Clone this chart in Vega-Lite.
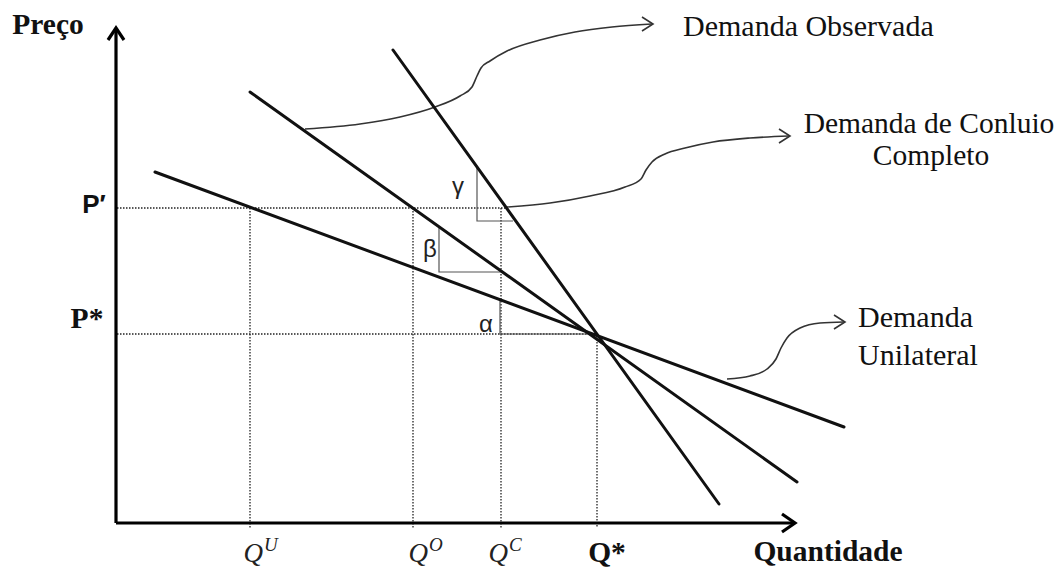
{
  "$schema": "https://vega.github.io/schema/vega-lite/v6.json",
  "width": 1062,
  "height": 569,
  "autosize": {"type": "fit", "contains": "padding"},
  "padding": 0,
  "background": "white",
  "config": {"view": {"stroke": null}},
  "datasets": {
    "segs": [
      {"kind": "axis", "id": "yaxis", "o": 0, "x": 116, "y": 523},
      {"kind": "axis", "id": "yaxis", "o": 1, "x": 116, "y": 30},
      {"kind": "axis", "id": "xaxis", "o": 0, "x": 116, "y": 523},
      {"kind": "axis", "id": "xaxis", "o": 1, "x": 794, "y": 523},
      {"kind": "axis", "id": "yarr", "o": 0, "x": 108, "y": 40},
      {"kind": "axis", "id": "yarr", "o": 1, "x": 116, "y": 28},
      {"kind": "axis", "id": "yarr", "o": 2, "x": 124, "y": 40},
      {"kind": "axis", "id": "xarr", "o": 0, "x": 782, "y": 514},
      {"kind": "axis", "id": "xarr", "o": 1, "x": 795, "y": 523},
      {"kind": "axis", "id": "xarr", "o": 2, "x": 782, "y": 532},

      {"kind": "demand", "id": "conluio", "o": 0, "x": 393, "y": 50},
      {"kind": "demand", "id": "conluio", "o": 1, "x": 719, "y": 504},
      {"kind": "demand", "id": "observada", "o": 0, "x": 250, "y": 92},
      {"kind": "demand", "id": "observada", "o": 1, "x": 797, "y": 482},
      {"kind": "demand", "id": "unilateral", "o": 0, "x": 155, "y": 172},
      {"kind": "demand", "id": "unilateral", "o": 1, "x": 844, "y": 427},

      {"kind": "dotted", "id": "pprime", "o": 0, "x": 117, "y": 208},
      {"kind": "dotted", "id": "pprime", "o": 1, "x": 505, "y": 208},
      {"kind": "dotted", "id": "pstar", "o": 0, "x": 117, "y": 334},
      {"kind": "dotted", "id": "pstar", "o": 1, "x": 598, "y": 334},
      {"kind": "dotted", "id": "qu", "o": 0, "x": 250, "y": 208},
      {"kind": "dotted", "id": "qu", "o": 1, "x": 250, "y": 528},
      {"kind": "dotted", "id": "qo", "o": 0, "x": 413, "y": 208},
      {"kind": "dotted", "id": "qo", "o": 1, "x": 413, "y": 528},
      {"kind": "dotted", "id": "qc", "o": 0, "x": 501, "y": 208},
      {"kind": "dotted", "id": "qc", "o": 1, "x": 501, "y": 528},
      {"kind": "dotted", "id": "qs", "o": 0, "x": 597, "y": 336},
      {"kind": "dotted", "id": "qs", "o": 1, "x": 597, "y": 528},

      {"kind": "thin", "id": "gamma", "o": 0, "x": 477, "y": 168},
      {"kind": "thin", "id": "gamma", "o": 1, "x": 477, "y": 221},
      {"kind": "thin", "id": "gamma", "o": 2, "x": 513, "y": 221},
      {"kind": "thin", "id": "beta", "o": 0, "x": 439, "y": 227},
      {"kind": "thin", "id": "beta", "o": 1, "x": 439, "y": 272},
      {"kind": "thin", "id": "beta", "o": 2, "x": 500, "y": 272},
      {"kind": "thin", "id": "alpha", "o": 0, "x": 500, "y": 300},
      {"kind": "thin", "id": "alpha", "o": 1, "x": 500, "y": 334},
      {"kind": "thin", "id": "alpha", "o": 2, "x": 590, "y": 334},

      {"kind": "curve", "id": "cobs", "o": 0, "x": 305, "y": 129},
      {"kind": "curve", "id": "cobs", "o": 1, "x": 360, "y": 124},
      {"kind": "curve", "id": "cobs", "o": 2, "x": 400, "y": 117},
      {"kind": "curve", "id": "cobs", "o": 3, "x": 435, "y": 107},
      {"kind": "curve", "id": "cobs", "o": 4, "x": 460, "y": 96},
      {"kind": "curve", "id": "cobs", "o": 5, "x": 472, "y": 87},
      {"kind": "curve", "id": "cobs", "o": 6, "x": 477, "y": 76},
      {"kind": "curve", "id": "cobs", "o": 7, "x": 481, "y": 68},
      {"kind": "curve", "id": "cobs", "o": 8, "x": 490, "y": 61},
      {"kind": "curve", "id": "cobs", "o": 9, "x": 507, "y": 51},
      {"kind": "curve", "id": "cobs", "o": 10, "x": 540, "y": 40},
      {"kind": "curve", "id": "cobs", "o": 11, "x": 575, "y": 32},
      {"kind": "curve", "id": "cobs", "o": 12, "x": 612, "y": 27},
      {"kind": "curve", "id": "cobs", "o": 13, "x": 652, "y": 24},

      {"kind": "curve", "id": "ccon", "o": 0, "x": 507, "y": 207},
      {"kind": "curve", "id": "ccon", "o": 1, "x": 550, "y": 203},
      {"kind": "curve", "id": "ccon", "o": 2, "x": 590, "y": 196},
      {"kind": "curve", "id": "ccon", "o": 3, "x": 625, "y": 187},
      {"kind": "curve", "id": "ccon", "o": 4, "x": 641, "y": 179},
      {"kind": "curve", "id": "ccon", "o": 5, "x": 646, "y": 170},
      {"kind": "curve", "id": "ccon", "o": 6, "x": 652, "y": 162},
      {"kind": "curve", "id": "ccon", "o": 7, "x": 665, "y": 154},
      {"kind": "curve", "id": "ccon", "o": 8, "x": 685, "y": 148},
      {"kind": "curve", "id": "ccon", "o": 9, "x": 713, "y": 142},
      {"kind": "curve", "id": "ccon", "o": 10, "x": 750, "y": 138},
      {"kind": "curve", "id": "ccon", "o": 11, "x": 789, "y": 136},

      {"kind": "curve", "id": "cuni", "o": 0, "x": 727, "y": 379},
      {"kind": "curve", "id": "cuni", "o": 1, "x": 750, "y": 376},
      {"kind": "curve", "id": "cuni", "o": 2, "x": 767, "y": 369},
      {"kind": "curve", "id": "cuni", "o": 3, "x": 776, "y": 359},
      {"kind": "curve", "id": "cuni", "o": 4, "x": 781, "y": 348},
      {"kind": "curve", "id": "cuni", "o": 5, "x": 787, "y": 338},
      {"kind": "curve", "id": "cuni", "o": 6, "x": 800, "y": 328},
      {"kind": "curve", "id": "cuni", "o": 7, "x": 820, "y": 323},
      {"kind": "curve", "id": "cuni", "o": 8, "x": 844, "y": 322},

      {"kind": "carrow", "id": "aobs", "o": 0, "x": 642, "y": 17},
      {"kind": "carrow", "id": "aobs", "o": 1, "x": 653, "y": 24},
      {"kind": "carrow", "id": "aobs", "o": 2, "x": 642, "y": 31},
      {"kind": "carrow", "id": "acon", "o": 0, "x": 779, "y": 129},
      {"kind": "carrow", "id": "acon", "o": 1, "x": 790, "y": 136},
      {"kind": "carrow", "id": "acon", "o": 2, "x": 779, "y": 143},
      {"kind": "carrow", "id": "auni", "o": 0, "x": 834, "y": 315},
      {"kind": "carrow", "id": "auni", "o": 1, "x": 845, "y": 322},
      {"kind": "carrow", "id": "auni", "o": 2, "x": 834, "y": 329}
    ],
    "labels": [
      {"kind": "sb", "x": 48, "y": 34, "text": "Preço"},
      {"kind": "sb", "x": 87, "y": 328, "text": "P*"},
      {"kind": "sb", "x": 607, "y": 562, "text": "Q*"},
      {"kind": "sb", "x": 828, "y": 561, "text": "Quantidade"},
      {"kind": "srl", "x": 683, "y": 36, "text": "Demanda Observada"},
      {"kind": "srl", "x": 858, "y": 327, "text": "Demanda"},
      {"kind": "srl", "x": 858, "y": 365, "text": "Unilateral"},
      {"kind": "sr", "x": 929, "y": 133, "text": "Demanda de Conluio"},
      {"kind": "sr", "x": 931, "y": 165, "text": "Completo"},
      {"kind": "greek", "x": 458, "y": 194, "text": "γ"},
      {"kind": "greek", "x": 430, "y": 257, "text": "β"},
      {"kind": "greek", "x": 486, "y": 332, "text": "α"},
      {"kind": "pp", "x": 94, "y": 213, "text": "P′"},
      {"kind": "qi", "x": 263, "y": 562, "text": "Q"},
      {"kind": "qi", "x": 428, "y": 562, "text": "Q"},
      {"kind": "qi", "x": 508, "y": 562, "text": "Q"},
      {"kind": "sup", "x": 264, "y": 551, "text": "U"},
      {"kind": "sup", "x": 429, "y": 551, "text": "O"},
      {"kind": "sup", "x": 509, "y": 551, "text": "C"}
    ]
  },
  "encoding": {
    "x": {"field": "x", "type": "quantitative", "scale": {"domain": [0, 1062], "nice": false, "zero": false}, "axis": null},
    "y": {"field": "y", "type": "quantitative", "scale": {"domain": [0, 569], "nice": false, "zero": false, "reverse": true}, "axis": null}
  },
  "layer": [
    {
      "data": {"name": "segs"},
      "transform": [{"filter": "datum.kind === 'dotted'"}],
      "mark": {"type": "line", "color": "#222", "strokeWidth": 1.3, "strokeDash": [1.5, 1.5]},
      "encoding": {"detail": {"field": "id"}, "order": {"field": "o"}}
    },
    {
      "data": {"name": "segs"},
      "transform": [{"filter": "datum.kind === 'thin'"}],
      "mark": {"type": "line", "color": "#555", "strokeWidth": 1.2},
      "encoding": {"detail": {"field": "id"}, "order": {"field": "o"}}
    },
    {
      "data": {"name": "segs"},
      "transform": [{"filter": "datum.kind === 'curve'"}],
      "mark": {"type": "line", "color": "#333", "strokeWidth": 1.6, "interpolate": "monotone"},
      "encoding": {"detail": {"field": "id"}, "order": {"field": "o"}}
    },
    {
      "data": {"name": "segs"},
      "transform": [{"filter": "datum.kind === 'carrow'"}],
      "mark": {"type": "line", "color": "#333", "strokeWidth": 1.6},
      "encoding": {"detail": {"field": "id"}, "order": {"field": "o"}}
    },
    {
      "data": {"name": "segs"},
      "transform": [{"filter": "datum.kind === 'demand'"}],
      "mark": {"type": "line", "color": "#111", "strokeWidth": 3, "strokeCap": "round"},
      "encoding": {"detail": {"field": "id"}, "order": {"field": "o"}}
    },
    {
      "data": {"name": "segs"},
      "transform": [{"filter": "datum.kind === 'axis'"}],
      "mark": {"type": "line", "color": "#000", "strokeWidth": 3.2},
      "encoding": {"detail": {"field": "id"}, "order": {"field": "o"}}
    },
    {
      "data": {"name": "labels"},
      "transform": [{"filter": "datum.kind === 'sb'"}],
      "mark": {"type": "text", "font": "Liberation Serif", "fontWeight": "bold", "fontSize": 29.5, "align": "center", "baseline": "alphabetic", "color": "#111"},
      "encoding": {"text": {"field": "text"}}
    },
    {
      "data": {"name": "labels"},
      "transform": [{"filter": "datum.kind === 'srl'"}],
      "mark": {"type": "text", "font": "Liberation Serif", "fontSize": 30, "align": "left", "baseline": "alphabetic", "color": "#111"},
      "encoding": {"text": {"field": "text"}}
    },
    {
      "data": {"name": "labels"},
      "transform": [{"filter": "datum.kind === 'sr'"}],
      "mark": {"type": "text", "font": "Liberation Serif", "fontSize": 29.5, "align": "center", "baseline": "alphabetic", "color": "#111"},
      "encoding": {"text": {"field": "text"}}
    },
    {
      "data": {"name": "labels"},
      "transform": [{"filter": "datum.kind === 'greek'"}],
      "mark": {"type": "text", "font": "Liberation Sans", "fontSize": 24, "align": "center", "baseline": "alphabetic", "color": "#222"},
      "encoding": {"text": {"field": "text"}}
    },
    {
      "data": {"name": "labels"},
      "transform": [{"filter": "datum.kind === 'pp'"}],
      "mark": {"type": "text", "font": "Liberation Sans", "fontWeight": "bold", "fontSize": 26, "align": "center", "baseline": "alphabetic", "color": "#111"},
      "encoding": {"text": {"field": "text"}}
    },
    {
      "data": {"name": "labels"},
      "transform": [{"filter": "datum.kind === 'qi'"}],
      "mark": {"type": "text", "font": "Liberation Serif", "fontStyle": "italic", "fontSize": 27, "align": "right", "baseline": "alphabetic", "color": "#222"},
      "encoding": {"text": {"field": "text"}}
    },
    {
      "data": {"name": "labels"},
      "transform": [{"filter": "datum.kind === 'sup'"}],
      "mark": {"type": "text", "font": "Liberation Serif", "fontStyle": "italic", "fontSize": 19, "align": "left", "baseline": "alphabetic", "color": "#222"},
      "encoding": {"text": {"field": "text"}}
    }
  ]
}
